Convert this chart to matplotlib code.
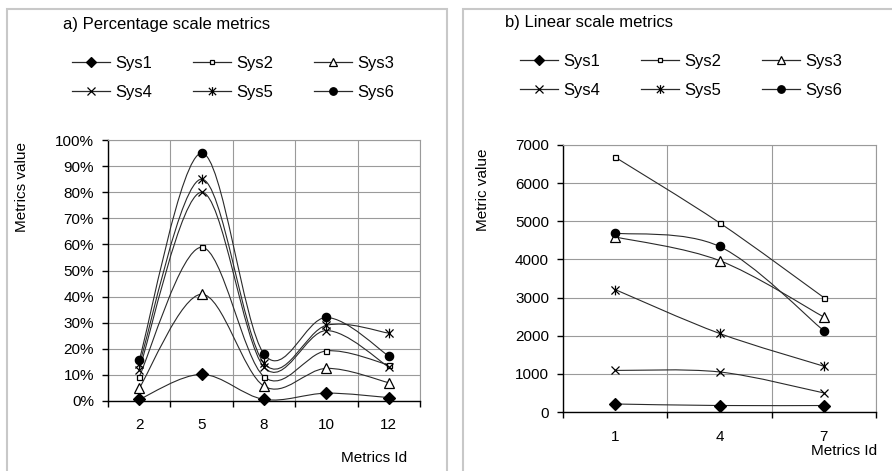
import matplotlib
matplotlib.use("Agg")
import matplotlib.pyplot as plt
from matplotlib.path import Path
from matplotlib.patches import PathPatch, Rectangle
from matplotlib.lines import Line2D

plt.rcParams['font.family'] = ['Liberation Sans', 'DejaVu Sans']

systems = ["Sys1", "Sys2", "Sys3", "Sys4", "Sys5", "Sys6"]

# a) percentage scale metrics (values in %)
pct_ids = ["2", "5", "8", "10", "12"]
pct_sys1 = [0.6, 10.2, 0.6, 3.0, 1.3]
pct_sys2 = [9.3, 58.9, 9.3, 19.2, 13.8]
pct_sys3 = [4.9, 40.9, 5.7, 12.5, 7.0]
pct_sys4 = [12.0, 80.0, 13.0, 27.0, 13.0]
pct_sys5 = [14.0, 85.0, 14.5, 29.0, 26.0]
pct_sys6 = [15.7, 95.0, 18.0, 32.0, 17.2]

# b) linear scale metrics
lin_ids = ["1", "4", "7"]
lin_sys1 = [210, 170, 170]
lin_sys2 = [6680, 4960, 3000]
lin_sys3 = [4590, 3970, 2490]
lin_sys4 = [1090, 1050, 500]
lin_sys5 = [3210, 2060, 1200]
lin_sys6 = [4690, 4340, 2130]

# x + vertical bar, like the Excel star marker
star = Path([(-1, -1), (1, 1), (-1, 1), (1, -1), (0, -1.2), (0, 1.2)],
            [Path.MOVETO, Path.LINETO, Path.MOVETO, Path.LINETO, Path.MOVETO, Path.LINETO])

styles = [
    dict(marker="D", ms=6, mfc="black"),
    dict(marker="s", ms=3.6, mfc="white"),
    dict(marker="^", ms=6.5, mfc="white"),
    dict(marker="x", ms=6, mfc="none"),
    dict(marker=star, ms=7, mfc="none"),
    dict(marker="o", ms=6, mfc="black"),
]

line_color = "#2a2a2a"
grid_color = "#9a9a9a"


def smooth_path(xs, ys):
    # bezier through the points, similar to Excel "smoothed line"
    pts = list(zip(xs, ys))
    n = len(pts)
    verts = [pts[0]]
    codes = [Path.MOVETO]
    for i in range(n - 1):
        p0 = pts[max(i - 1, 0)]
        p1 = pts[i]
        p2 = pts[i + 1]
        p3 = pts[min(i + 2, n - 1)]
        c1 = (p1[0] + (p2[0] - p0[0]) / 6, p1[1] + (p2[1] - p0[1]) / 6)
        c2 = (p2[0] - (p3[0] - p1[0]) / 6, p2[1] - (p3[1] - p1[1]) / 6)
        verts += [c1, c2, p2]
        codes += [Path.CURVE4] * 3
    return Path(verts, codes)


def draw_panel(ax, ids, series, ylim, ystep, fmt, xpad):
    x = list(range(len(ids)))
    for vals, st in zip(series, styles):
        ax.add_patch(PathPatch(smooth_path(x, vals), facecolor="none",
                               edgecolor=line_color, lw=0.8, zorder=3))
        ax.plot(x, vals, linestyle="none", marker=st["marker"], markersize=st["ms"],
                markerfacecolor=st["mfc"], markeredgecolor="black", markeredgewidth=0.9,
                zorder=4, clip_on=False)
    ax.set_xlim(-0.5, len(ids) - 0.5)
    ax.set_ylim(*ylim)
    ax.set_xticks(x)
    ax.set_xticklabels(ids)
    ax.set_xticks([i - 0.5 for i in range(len(ids) + 1)], minor=True)
    ax.set_yticks(range(ylim[0], ylim[1] + 1, ystep))
    ax.set_yticklabels([fmt(v) for v in range(ylim[0], ylim[1] + 1, ystep)])
    ax.tick_params(axis="x", which="major", length=0, pad=xpad, labelsize=11)
    ax.tick_params(axis="x", which="minor", length=4, width=1, direction="out")
    ax.tick_params(axis="y", length=4, width=1, direction="out", pad=6, labelsize=11)
    ax.grid(True, which="minor", axis="x", color=grid_color, lw=0.8)
    ax.grid(True, which="major", axis="y", color=grid_color, lw=0.8)
    ax.set_axisbelow(True)
    for s in ["top", "right"]:
        ax.spines[s].set_color(grid_color)
        ax.spines[s].set_linewidth(0.8)
    for s in ["left", "bottom"]:
        ax.spines[s].set_color("black")
        ax.spines[s].set_linewidth(1)


def add_legend(fig, x0, y0):
    handles = []
    for st in styles:
        handles.append(Line2D([], [], color=line_color, lw=0.9, marker=st["marker"],
                              markersize=st["ms"] * 0.9, markerfacecolor=st["mfc"],
                              markeredgecolor="black", markeredgewidth=0.9))
    order = [0, 3, 1, 4, 2, 5]
    fig.legend([handles[i] for i in order], [systems[i] for i in order],
               ncol=3, loc="upper left", bbox_to_anchor=(x0 / 892, 1 - y0 / 471),
               frameon=False, fontsize=12, handlelength=2.28, handletextpad=0.3,
               columnspacing=2.46, borderpad=0, borderaxespad=0, labelspacing=0.86)


fig = plt.figure(figsize=(8.92, 4.71), dpi=100)

# panel frames
fig.patches.append(Rectangle((7 / 892, -0.1), 440 / 892, 1.1 - 9 / 471, transform=fig.transFigure,
                             facecolor="none", edgecolor="#c8c8c8", lw=1.5))
fig.patches.append(Rectangle((463 / 892, -0.1), 0.6, 1.1 - 9 / 471, transform=fig.transFigure,
                             facecolor="none", edgecolor="#c8c8c8", lw=1.5))

ax1 = fig.add_axes([108 / 892, 1 - 401 / 471, 312 / 892, 261 / 471])
draw_panel(ax1, pct_ids, [pct_sys1, pct_sys2, pct_sys3, pct_sys4, pct_sys5, pct_sys6],
           (0, 100), 10, lambda v: f"{v}%", 12)

ax2 = fig.add_axes([563 / 892, 1 - 412 / 471, 313 / 892, 267 / 471])
draw_panel(ax2, lin_ids, [lin_sys1, lin_sys2, lin_sys3, lin_sys4, lin_sys5, lin_sys6],
           (0, 7000), 1000, lambda v: f"{v}", 13)

fig.text(63 / 892, 1 - 25 / 471, "a) Percentage scale metrics", fontsize=12, va="center", ha="left")
fig.text(505 / 892, 1 - 22 / 471, "b) Linear scale metrics", fontsize=12, va="center", ha="left")

fig.text(22 / 892, 1 - 187 / 471, "Metrics value", fontsize=11, rotation=90, va="center", ha="center")
fig.text(483 / 892, 1 - 190 / 471, "Metric value", fontsize=11, rotation=90, va="center", ha="center")
fig.text(407 / 892, 1 - 458 / 471, "Metrics Id", fontsize=11, va="center", ha="right")
fig.text(877 / 892, 1 - 451 / 471, "Metrics Id", fontsize=11, va="center", ha="right")

add_legend(fig, 72, 56)
add_legend(fig, 520, 54)

fig.savefig("out.png", dpi=100)
